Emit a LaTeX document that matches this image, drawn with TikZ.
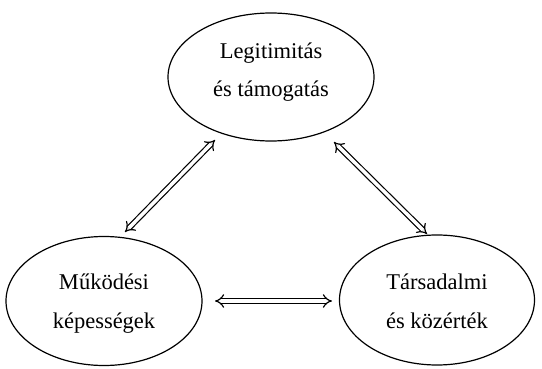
\documentclass[tikz,border=0pt]{standalone}
\usepackage{fontspec}
\setmainfont{Liberation Serif}
\usetikzlibrary{arrows.meta,shapes.geometric}
\begin{document}
\begin{tikzpicture}[x=1pt,y=-1pt,oval/.style={draw,ellipse,line width=1.2pt,inner sep=0pt,align=center,text depth=5pt,font=\fontsize{22.5}{39}\selectfont},link/.style={double,double distance=3.5pt,line width=1.2pt,{Implies[scale=1.5]}-{Implies[scale=1.5]}}]
\useasboundingbox (0,0) rectangle (542,369);
\node[oval,text height=45pt,minimum width=206pt,minimum height=128pt] (legit) at (271,77){Legitimitás\\és támogatás};
\node[oval,text height=59pt,minimum width=196pt,minimum height=129pt] (mukod) at (104,301){Működési\\képességek};
\node[oval,text height=61pt,minimum width=195pt,minimum height=130pt] (tarsad) at (437,300){Társadalmi\\és közérték};
\coordinate (lt) at (215,140);\coordinate (lb) at (125,232);
\coordinate (rt) at (334,142);\coordinate (rb) at (427,234);
\coordinate (hl) at (215,301);\coordinate (hr) at (332,301);
\draw[link] (lt)--(lb);\draw[link] (rt)--(rb);\draw[link] (hl)--(hr);
\end{tikzpicture}
\end{document}
